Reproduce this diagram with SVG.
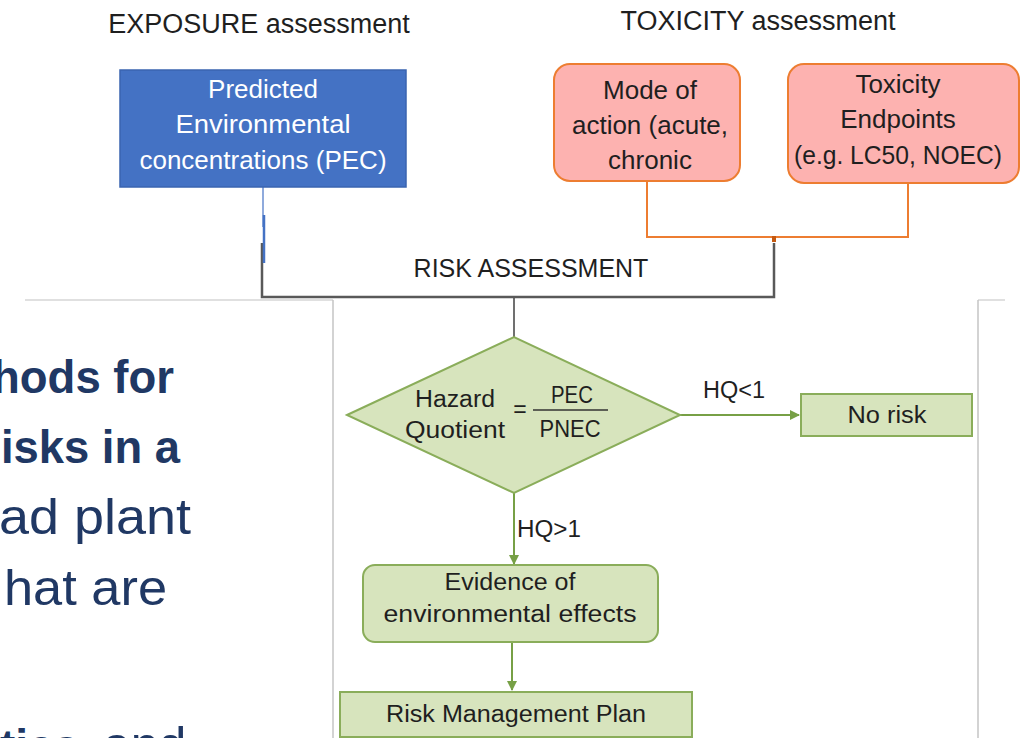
<svg xmlns="http://www.w3.org/2000/svg" width="1026" height="738" viewBox="0 0 1026 738">
<style>
text{font-family:"Liberation Sans",Arial,sans-serif;}
.title{font-size:27px;fill:#1f1f1f;text-anchor:middle;}
.wt{font-size:26px;fill:#ffffff;text-anchor:middle;}
.dk{font-size:26px;fill:#1f1f1f;text-anchor:middle;}
.fl{font-size:23px;fill:#1f1f1f;}
.mid{text-anchor:middle;}
.slideB{font-size:46px;font-weight:bold;fill:#203864;}
.slideR{font-size:50px;fill:#203864;}
.green{fill:#D7E4BD;stroke:#8AAD5A;stroke-width:2;}
.garrow{fill:none;stroke:#77A046;stroke-width:2;marker-end:url(#ah);}
.bg{stroke:#d6d6d6;stroke-width:1.5;fill:none;}
</style>
<defs>
<marker id="ah" markerWidth="10" markerHeight="10" refX="9" refY="5" orient="auto" markerUnits="userSpaceOnUse">
<path d="M0,0 L10,5 L0,10 Z" fill="#77A046"/>
</marker>
</defs>
<rect width="1026" height="738" fill="#ffffff"/>

<g id="background-frame">
<line class="bg" x1="25" y1="300" x2="333" y2="300"/>
<line x1="333" y1="300" x2="333" y2="738" stroke="#c4c4c4" stroke-width="1.5"/>
<line class="bg" x1="978" y1="300" x2="1005" y2="300"/>
<line x1="978" y1="300" x2="978" y2="738" stroke="#c4c4c4" stroke-width="1.5"/>
</g>

<g id="slide-text">
<text class="slideB" x="-8" y="393" textLength="182" lengthAdjust="spacingAndGlyphs">hods for</text>
<text class="slideB" x="1" y="463" textLength="179" lengthAdjust="spacingAndGlyphs">isks in a</text>
<text class="slideR" x="-1" y="534" textLength="192" lengthAdjust="spacingAndGlyphs">ad plant</text>
<text class="slideR" x="4" y="605" textLength="163" lengthAdjust="spacingAndGlyphs">hat are</text>
<text x="0" y="762"><tspan class="slideB">tics</tspan><tspan class="slideR" x="103">and</tspan></text>
</g>

<g id="titles">
<text class="title" x="259" y="33">EXPOSURE assessment</text>
<text class="title" x="758" y="30">TOXICITY assessment</text>
</g>

<g id="connectors">
<line x1="263" y1="187" x2="263" y2="227" stroke="#8FAADC" stroke-width="2"/>
<polyline points="262,243 262,297 774,297 774,243" fill="none" stroke="#595959" stroke-width="2.5"/>
<line x1="264" y1="215" x2="264" y2="263" stroke="#4472C4" stroke-width="2.5"/>
<polyline points="647,181 647,237 908,237 908,183" fill="none" stroke="#ED7D31" stroke-width="2"/>
<rect x="772" y="236" width="4" height="6" fill="#C55A11"/>
<line x1="514" y1="298" x2="514" y2="338" stroke="#404040" stroke-width="1.5"/>
<line class="garrow" x1="680" y1="415" x2="799" y2="415"/>
<line class="garrow" x1="514" y1="493" x2="514" y2="564"/>
<line class="garrow" x1="512" y1="642" x2="512" y2="690"/>
<text class="fl" x="703" y="398" textLength="62" lengthAdjust="spacingAndGlyphs">HQ&lt;1</text>
<text class="fl" x="517" y="537" textLength="64" lengthAdjust="spacingAndGlyphs">HQ&gt;1</text>
</g>

<g id="pec">
<rect x="120" y="70" width="286" height="117" fill="#4472C4" stroke="#3A64B0" stroke-width="1.5"/>
<text class="wt" x="263" y="98">Predicted</text>
<text class="wt" x="263" y="133" textLength="175" lengthAdjust="spacingAndGlyphs">Environmental</text>
<text class="wt" x="263" y="169">concentrations (PEC)</text>
</g>

<g id="mode-of-action">
<rect x="554" y="64" width="186" height="117" rx="16" fill="#FDB2B0" stroke="#ED7D31" stroke-width="2"/>
<text class="dk" x="650" y="99">Mode of</text>
<text class="dk" x="650" y="134">action (acute,</text>
<text class="dk" x="650" y="169">chronic</text>
</g>

<g id="toxicity-endpoints">
<rect x="788" y="64" width="231" height="119" rx="16" fill="#FDB2B0" stroke="#ED7D31" stroke-width="2"/>
<text class="dk" x="898" y="93">Toxicity</text>
<text class="dk" x="898" y="128">Endpoints</text>
<text class="dk" x="898" y="164" style="font-size:25px" textLength="208" lengthAdjust="spacingAndGlyphs">(e.g. LC50, NOEC)</text>
</g>

<g id="risk-assessment">
<text class="dk" x="531" y="277" style="font-size:25px">RISK ASSESSMENT</text>
</g>

<g id="hazard-quotient">
<polygon class="green" points="347,415 514,337 680,415 514,493"/>
<text class="fl mid" x="455" y="407" textLength="80" lengthAdjust="spacingAndGlyphs">Hazard</text>
<text class="fl mid" x="455" y="438" textLength="100" lengthAdjust="spacingAndGlyphs">Quotient</text>
<text class="fl mid" x="520" y="417">=</text>
<text class="fl mid" x="572" y="403" textLength="42" lengthAdjust="spacingAndGlyphs">PEC</text>
<line x1="533" y1="410" x2="608" y2="410" stroke="#333333" stroke-width="1.5"/>
<text class="fl mid" x="570" y="437" textLength="61" lengthAdjust="spacingAndGlyphs">PNEC</text>
</g>

<g id="no-risk">
<rect class="green" x="801" y="394" width="171" height="42"/>
<text class="fl mid" x="887" y="423" textLength="79" lengthAdjust="spacingAndGlyphs">No risk</text>
</g>

<g id="evidence">
<rect class="green" x="363" y="565" width="295" height="77" rx="12"/>
<text class="fl mid" x="510" y="590" textLength="131" lengthAdjust="spacingAndGlyphs">Evidence of</text>
<text class="fl mid" x="510" y="622" textLength="253" lengthAdjust="spacingAndGlyphs">environmental effects</text>
</g>

<g id="risk-management-plan">
<rect class="green" x="340" y="692" width="352" height="45"/>
<text class="fl mid" x="516" y="722" textLength="260" lengthAdjust="spacingAndGlyphs">Risk Management Plan</text>
</g>
</svg>
